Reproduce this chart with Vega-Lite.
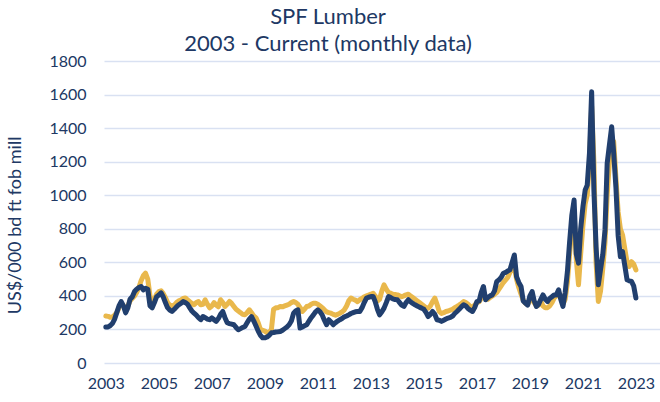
{
  "$schema": "https://vega.github.io/schema/vega-lite/v6.json",
  "width": 556,
  "height": 302,
  "autosize": {"type": "none"},
  "padding": {"left": 104, "top": 61, "right": 0, "bottom": 39},
  "background": "white",
  "config": {"view": {"stroke": null}, "font": "Lato"},
  "title": {
    "text": ["SPF Lumber", "2003 - Current (monthly data)"],
    "font": "Lato",
    "fontSize": 22,
    "lineHeight": 27,
    "fontWeight": "normal",
    "color": "#203864",
    "anchor": "middle",
    "frame": "group",
    "dx": -54,
    "offset": -3
  },
  "data": {
    "values": [
      {"d": "2003-01", "g": 280, "n": 215}, {"d": "2003-02", "g": 278, "n": 215}, {"d": "2003-03", "g": 272, "n": 222}, {"d": "2003-04", "g": 275, "n": 235}, {"d": "2003-05", "g": 285, "n": 260}, {"d": "2003-06", "g": 300, "n": 300}, {"d": "2003-07", "g": 330, "n": 340}, {"d": "2003-08", "g": 355, "n": 366}, {"d": "2003-09", "g": 340, "n": 340}, {"d": "2003-10", "g": 320, "n": 299}, {"d": "2003-11", "g": 340, "n": 330}, {"d": "2003-12", "g": 370, "n": 380},
      {"d": "2004-01", "g": 385, "n": 395}, {"d": "2004-02", "g": 400, "n": 426}, {"d": "2004-03", "g": 420, "n": 440}, {"d": "2004-04", "g": 450, "n": 450}, {"d": "2004-05", "g": 490, "n": 456}, {"d": "2004-06", "g": 520, "n": 436}, {"d": "2004-07", "g": 535, "n": 446}, {"d": "2004-08", "g": 500, "n": 440}, {"d": "2004-09", "g": 400, "n": 340}, {"d": "2004-10", "g": 360, "n": 329}, {"d": "2004-11", "g": 380, "n": 360}, {"d": "2004-12", "g": 410, "n": 395},
      {"d": "2005-01", "g": 425, "n": 405}, {"d": "2005-02", "g": 430, "n": 418}, {"d": "2005-03", "g": 415, "n": 395}, {"d": "2005-04", "g": 390, "n": 360}, {"d": "2005-05", "g": 360, "n": 330}, {"d": "2005-06", "g": 345, "n": 315}, {"d": "2005-07", "g": 340, "n": 307}, {"d": "2005-08", "g": 345, "n": 320}, {"d": "2005-09", "g": 360, "n": 335}, {"d": "2005-10", "g": 370, "n": 347}, {"d": "2005-11", "g": 375, "n": 355}, {"d": "2005-12", "g": 385, "n": 366},
      {"d": "2006-01", "g": 388, "n": 360}, {"d": "2006-02", "g": 375, "n": 350}, {"d": "2006-03", "g": 366, "n": 330}, {"d": "2006-04", "g": 355, "n": 310}, {"d": "2006-05", "g": 347, "n": 297}, {"d": "2006-06", "g": 360, "n": 285}, {"d": "2006-07", "g": 366, "n": 270}, {"d": "2006-08", "g": 347, "n": 258}, {"d": "2006-09", "g": 350, "n": 277}, {"d": "2006-10", "g": 377, "n": 270}, {"d": "2006-11", "g": 350, "n": 262}, {"d": "2006-12", "g": 329, "n": 258},
      {"d": "2007-01", "g": 340, "n": 269}, {"d": "2007-02", "g": 360, "n": 258}, {"d": "2007-03", "g": 345, "n": 248}, {"d": "2007-04", "g": 335, "n": 265}, {"d": "2007-05", "g": 377, "n": 290}, {"d": "2007-06", "g": 360, "n": 307}, {"d": "2007-07", "g": 337, "n": 270}, {"d": "2007-08", "g": 350, "n": 240}, {"d": "2007-09", "g": 367, "n": 235}, {"d": "2007-10", "g": 355, "n": 232}, {"d": "2007-11", "g": 337, "n": 228}, {"d": "2007-12", "g": 320, "n": 212},
      {"d": "2008-01", "g": 310, "n": 198}, {"d": "2008-02", "g": 300, "n": 205}, {"d": "2008-03", "g": 290, "n": 212}, {"d": "2008-04", "g": 287, "n": 218}, {"d": "2008-05", "g": 300, "n": 240}, {"d": "2008-06", "g": 317, "n": 262}, {"d": "2008-07", "g": 300, "n": 277}, {"d": "2008-08", "g": 280, "n": 250}, {"d": "2008-09", "g": 269, "n": 220}, {"d": "2008-10", "g": 240, "n": 190}, {"d": "2008-11", "g": 200, "n": 165}, {"d": "2008-12", "g": 195, "n": 150},
      {"d": "2009-01", "g": 190, "n": 150}, {"d": "2009-02", "g": 180, "n": 155}, {"d": "2009-03", "g": 182, "n": 165}, {"d": "2009-04", "g": 200, "n": 180}, {"d": "2009-05", "g": 320, "n": 182}, {"d": "2009-06", "g": 329, "n": 185}, {"d": "2009-07", "g": 330, "n": 186}, {"d": "2009-08", "g": 337, "n": 188}, {"d": "2009-09", "g": 335, "n": 195}, {"d": "2009-10", "g": 340, "n": 205}, {"d": "2009-11", "g": 345, "n": 215}, {"d": "2009-12", "g": 350, "n": 228},
      {"d": "2010-01", "g": 360, "n": 250}, {"d": "2010-02", "g": 366, "n": 297}, {"d": "2010-03", "g": 360, "n": 310}, {"d": "2010-04", "g": 350, "n": 317}, {"d": "2010-05", "g": 330, "n": 208}, {"d": "2010-06", "g": 307, "n": 215}, {"d": "2010-07", "g": 320, "n": 222}, {"d": "2010-08", "g": 337, "n": 228}, {"d": "2010-09", "g": 340, "n": 250}, {"d": "2010-10", "g": 350, "n": 270}, {"d": "2010-11", "g": 356, "n": 287}, {"d": "2010-12", "g": 356, "n": 305},
      {"d": "2011-01", "g": 350, "n": 317}, {"d": "2011-02", "g": 340, "n": 305}, {"d": "2011-03", "g": 330, "n": 287}, {"d": "2011-04", "g": 317, "n": 255}, {"d": "2011-05", "g": 305, "n": 228}, {"d": "2011-06", "g": 300, "n": 258}, {"d": "2011-07", "g": 297, "n": 245}, {"d": "2011-08", "g": 290, "n": 228}, {"d": "2011-09", "g": 285, "n": 240}, {"d": "2011-10", "g": 290, "n": 250}, {"d": "2011-11", "g": 297, "n": 258}, {"d": "2011-12", "g": 305, "n": 265},
      {"d": "2012-01", "g": 317, "n": 275}, {"d": "2012-02", "g": 340, "n": 280}, {"d": "2012-03", "g": 370, "n": 287}, {"d": "2012-04", "g": 387, "n": 295}, {"d": "2012-05", "g": 380, "n": 300}, {"d": "2012-06", "g": 375, "n": 305}, {"d": "2012-07", "g": 366, "n": 307}, {"d": "2012-08", "g": 377, "n": 307}, {"d": "2012-09", "g": 385, "n": 330}, {"d": "2012-10", "g": 395, "n": 360}, {"d": "2012-11", "g": 400, "n": 387}, {"d": "2012-12", "g": 405, "n": 392},
      {"d": "2013-01", "g": 410, "n": 396}, {"d": "2013-02", "g": 416, "n": 396}, {"d": "2013-03", "g": 400, "n": 366}, {"d": "2013-04", "g": 370, "n": 320}, {"d": "2013-05", "g": 380, "n": 287}, {"d": "2013-06", "g": 430, "n": 305}, {"d": "2013-07", "g": 466, "n": 327}, {"d": "2013-08", "g": 440, "n": 360}, {"d": "2013-09", "g": 420, "n": 396}, {"d": "2013-10", "g": 416, "n": 390}, {"d": "2013-11", "g": 410, "n": 382}, {"d": "2013-12", "g": 408, "n": 378},
      {"d": "2014-01", "g": 406, "n": 377}, {"d": "2014-02", "g": 400, "n": 360}, {"d": "2014-03", "g": 395, "n": 345}, {"d": "2014-04", "g": 400, "n": 337}, {"d": "2014-05", "g": 406, "n": 360}, {"d": "2014-06", "g": 410, "n": 377}, {"d": "2014-07", "g": 400, "n": 365}, {"d": "2014-08", "g": 390, "n": 355}, {"d": "2014-09", "g": 380, "n": 347}, {"d": "2014-10", "g": 370, "n": 340}, {"d": "2014-11", "g": 360, "n": 333}, {"d": "2014-12", "g": 350, "n": 327},
      {"d": "2015-01", "g": 340, "n": 320}, {"d": "2015-02", "g": 330, "n": 300}, {"d": "2015-03", "g": 327, "n": 277}, {"d": "2015-04", "g": 340, "n": 290}, {"d": "2015-05", "g": 366, "n": 307}, {"d": "2015-06", "g": 387, "n": 290}, {"d": "2015-07", "g": 350, "n": 258}, {"d": "2015-08", "g": 307, "n": 255}, {"d": "2015-09", "g": 295, "n": 248}, {"d": "2015-10", "g": 300, "n": 255}, {"d": "2015-11", "g": 307, "n": 262}, {"d": "2015-12", "g": 310, "n": 268},
      {"d": "2016-01", "g": 315, "n": 272}, {"d": "2016-02", "g": 320, "n": 280}, {"d": "2016-03", "g": 330, "n": 295}, {"d": "2016-04", "g": 337, "n": 307}, {"d": "2016-05", "g": 345, "n": 320}, {"d": "2016-06", "g": 355, "n": 335}, {"d": "2016-07", "g": 366, "n": 347}, {"d": "2016-08", "g": 360, "n": 340}, {"d": "2016-09", "g": 350, "n": 325}, {"d": "2016-10", "g": 337, "n": 315}, {"d": "2016-11", "g": 335, "n": 307}, {"d": "2016-12", "g": 345, "n": 330},
      {"d": "2017-01", "g": 360, "n": 366}, {"d": "2017-02", "g": 365, "n": 370}, {"d": "2017-03", "g": 385, "n": 420}, {"d": "2017-04", "g": 400, "n": 456}, {"d": "2017-05", "g": 390, "n": 377}, {"d": "2017-06", "g": 380, "n": 390}, {"d": "2017-07", "g": 390, "n": 400}, {"d": "2017-08", "g": 400, "n": 406}, {"d": "2017-09", "g": 410, "n": 430}, {"d": "2017-10", "g": 420, "n": 486}, {"d": "2017-11", "g": 440, "n": 495}, {"d": "2017-12", "g": 460, "n": 510},
      {"d": "2018-01", "g": 480, "n": 535}, {"d": "2018-02", "g": 495, "n": 540}, {"d": "2018-03", "g": 510, "n": 548}, {"d": "2018-04", "g": 540, "n": 555}, {"d": "2018-05", "g": 560, "n": 600}, {"d": "2018-06", "g": 575, "n": 644}, {"d": "2018-07", "g": 500, "n": 515}, {"d": "2018-08", "g": 450, "n": 480}, {"d": "2018-09", "g": 410, "n": 456}, {"d": "2018-10", "g": 375, "n": 370}, {"d": "2018-11", "g": 355, "n": 357}, {"d": "2018-12", "g": 350, "n": 345},
      {"d": "2019-01", "g": 370, "n": 400}, {"d": "2019-02", "g": 390, "n": 426}, {"d": "2019-03", "g": 360, "n": 370}, {"d": "2019-04", "g": 340, "n": 337}, {"d": "2019-05", "g": 345, "n": 350}, {"d": "2019-06", "g": 370, "n": 380}, {"d": "2019-07", "g": 340, "n": 406}, {"d": "2019-08", "g": 330, "n": 380}, {"d": "2019-09", "g": 330, "n": 367}, {"d": "2019-10", "g": 340, "n": 385}, {"d": "2019-11", "g": 360, "n": 395}, {"d": "2019-12", "g": 387, "n": 406},
      {"d": "2020-01", "g": 400, "n": 406}, {"d": "2020-02", "g": 420, "n": 436}, {"d": "2020-03", "g": 400, "n": 380}, {"d": "2020-04", "g": 350, "n": 337}, {"d": "2020-05", "g": 380, "n": 420}, {"d": "2020-06", "g": 480, "n": 545}, {"d": "2020-07", "g": 650, "n": 720}, {"d": "2020-08", "g": 800, "n": 882}, {"d": "2020-09", "g": 880, "n": 971}, {"d": "2020-10", "g": 620, "n": 650}, {"d": "2020-11", "g": 466, "n": 595}, {"d": "2020-12", "g": 650, "n": 800},
      {"d": "2021-01", "g": 820, "n": 932}, {"d": "2021-02", "g": 950, "n": 1031}, {"d": "2021-03", "g": 1000, "n": 1060}, {"d": "2021-04", "g": 1200, "n": 1250}, {"d": "2021-05", "g": 1530, "n": 1616}, {"d": "2021-06", "g": 1200, "n": 1031}, {"d": "2021-07", "g": 600, "n": 694}, {"d": "2021-08", "g": 367, "n": 466}, {"d": "2021-09", "g": 430, "n": 560}, {"d": "2021-10", "g": 560, "n": 644}, {"d": "2021-11", "g": 720, "n": 793}, {"d": "2021-12", "g": 1000, "n": 1190},
      {"d": "2022-01", "g": 1200, "n": 1300}, {"d": "2022-02", "g": 1330, "n": 1408}, {"d": "2022-03", "g": 1320, "n": 1250}, {"d": "2022-04", "g": 1100, "n": 1043}, {"d": "2022-05", "g": 900, "n": 760}, {"d": "2022-06", "g": 800, "n": 634}, {"d": "2022-07", "g": 763, "n": 664}, {"d": "2022-08", "g": 680, "n": 580}, {"d": "2022-09", "g": 600, "n": 496}, {"d": "2022-10", "g": 575, "n": 490}, {"d": "2022-11", "g": 604, "n": 486}, {"d": "2022-12", "g": 590, "n": 460},
      {"d": "2023-01", "g": 555, "n": 387}
    ]
  },
  "encoding": {
    "x": {
      "field": "d",
      "type": "temporal",
      "scale": {
        "type": "utc",
        "domain": [
          {"year": 2002, "month": 12, "date": 7, "utc": true},
          {"year": 2023, "month": 11, "date": 29, "utc": true}
        ]
      },
      "axis": {
        "title": null,
        "values": [
          {"year": 2003, "utc": true}, {"year": 2005, "utc": true}, {"year": 2007, "utc": true},
          {"year": 2009, "utc": true}, {"year": 2011, "utc": true}, {"year": 2013, "utc": true},
          {"year": 2015, "utc": true}, {"year": 2017, "utc": true}, {"year": 2019, "utc": true},
          {"year": 2021, "utc": true}, {"year": 2023, "utc": true}
        ],
        "format": "%Y",
        "grid": false,
        "domain": false,
        "ticks": false,
        "labelFlush": false,
        "labelOverlap": false,
        "labelFont": "Lato",
        "labelFontSize": 16,
        "labelColor": "#203864",
        "labelPadding": 12
      }
    }
  },
  "layer": [
    {
      "mark": {"type": "line", "color": "#E9B84C", "strokeWidth": 5, "strokeJoin": "round", "strokeCap": "round"},
      "encoding": {
        "y": {
          "field": "g",
          "type": "quantitative",
          "scale": {"domain": [0, 1800], "nice": false},
          "axis": {
            "title": "US$/000 bd ft fob mill",
            "values": [0, 200, 400, 600, 800, 1000, 1200, 1400, 1600, 1800],
            "format": "d",
            "labelOverlap": false,
            "grid": true,
            "gridColor": "#D9E1F2",
            "gridWidth": 1.5,
            "domain": false,
            "ticks": false,
            "labelFlush": false,
            "labelFont": "Lato",
            "labelFontSize": 16,
            "labelColor": "#203864",
            "labelPadding": 18,
            "titleFont": "Lato",
            "titleFontSize": 18,
            "titleFontWeight": "normal",
            "titleColor": "#203864",
            "titleX": -89,
            "titleY": 164,
            "titleBaseline": "middle",
            "titleAngle": -90,
            "titleAlign": "center"
          }
        }
      }
    },
    {
      "mark": {"type": "line", "color": "#213F6E", "strokeWidth": 5, "strokeJoin": "round", "strokeCap": "round"},
      "encoding": {
        "y": {
          "field": "n",
          "type": "quantitative",
          "scale": {"domain": [0, 1800], "nice": false},
          "axis": {
            "title": "US$/000 bd ft fob mill",
            "values": [0, 200, 400, 600, 800, 1000, 1200, 1400, 1600, 1800],
            "format": "d",
            "labelOverlap": false,
            "grid": true,
            "gridColor": "#D9E1F2",
            "gridWidth": 1.5,
            "domain": false,
            "ticks": false,
            "labelFlush": false,
            "labelFont": "Lato",
            "labelFontSize": 16,
            "labelColor": "#203864",
            "labelPadding": 18,
            "titleFont": "Lato",
            "titleFontSize": 18,
            "titleFontWeight": "normal",
            "titleColor": "#203864",
            "titleX": -89,
            "titleY": 164,
            "titleBaseline": "middle",
            "titleAngle": -90,
            "titleAlign": "center"
          }
        }
      }
    }
  ]
}
